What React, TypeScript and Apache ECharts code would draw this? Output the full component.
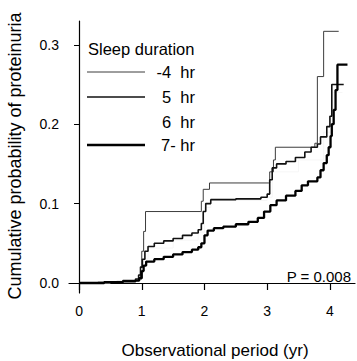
import React, { useEffect, useRef } from "react";
import * as echarts from "echarts";

const seriesNames = ["-4  hr", "5  hr", "6  hr", "7- hr"];

const hr4: number[][] = [
  [0, 0], [0.3, 0.001], [0.6, 0.002], [0.85, 0.003], [0.95, 0.006], [0.98, 0.02],
  [1.0, 0.04], [1.03, 0.065], [1.06, 0.09], [1.93, 0.09], [1.95, 0.103], [1.98, 0.118],
  [2.08, 0.126], [3.02, 0.126], [3.04, 0.14], [3.1, 0.155], [3.13, 0.171], [3.72, 0.171],
  [3.76, 0.176], [3.8, 0.26], [3.9, 0.317], [4.14, 0.317],
];

const hr5: number[][] = [
  [0, 0], [0.4, 0.001], [0.7, 0.003], [0.9, 0.005], [0.95, 0.01], [0.98, 0.02],
  [1.01, 0.03], [1.05, 0.04], [1.1, 0.046], [1.2, 0.05], [1.35, 0.053], [1.5, 0.056],
  [1.65, 0.06], [1.8, 0.063], [1.9, 0.067], [1.95, 0.075], [1.98, 0.09], [2.02, 0.1],
  [2.1, 0.105], [2.5, 0.106], [2.9, 0.108], [3.0, 0.112], [3.04, 0.13], [3.08, 0.145],
  [3.15, 0.15], [3.3, 0.153], [3.45, 0.158], [3.6, 0.165], [3.7, 0.171], [3.8, 0.175],
  [3.85, 0.184], [3.95, 0.197], [4.0, 0.21], [4.03, 0.25], [4.22, 0.25],
];

const hr6: number[][] = [
  [0, 0], [0.5, 0.001], [0.9, 0.004], [0.97, 0.012], [1.02, 0.03], [1.1, 0.044],
  [1.5, 0.054], [1.9, 0.064], [2.0, 0.095], [2.1, 0.104], [3.0, 0.108], [3.08, 0.14],
  [3.5, 0.155], [3.9, 0.19], [4.05, 0.24], [4.2, 0.24],
];

const hr7: number[][] = [
  [0, 0], [0.4, 0.001], [0.7, 0.002], [0.9, 0.003], [0.96, 0.006], [1.0, 0.015],
  [1.03, 0.022], [1.07, 0.027], [1.2, 0.03], [1.35, 0.033], [1.5, 0.036], [1.65, 0.039],
  [1.8, 0.042], [1.9, 0.045], [1.95, 0.05], [2.0, 0.06], [2.05, 0.066], [2.15, 0.069],
  [2.3, 0.071], [2.5, 0.074], [2.7, 0.077], [2.85, 0.082], [2.95, 0.09], [3.05, 0.098],
  [3.15, 0.104], [3.3, 0.11], [3.45, 0.116], [3.55, 0.123], [3.65, 0.128], [3.8, 0.133],
  [3.85, 0.142], [3.9, 0.151], [3.95, 0.161], [3.98, 0.171], [4.01, 0.185], [4.03, 0.2],
  [4.06, 0.218], [4.09, 0.243], [4.12, 0.275], [4.28, 0.275],
];

const xTicks = [0, 1, 2, 3, 4];
const yTicks = [0, 0.1, 0.2, 0.3];

const FONT = "Liberation Sans, Arial, sans-serif";

export default function App() {
  const ref = useRef<HTMLDivElement>(null);
  useEffect(() => {
    if (!ref.current) return;
    const chart = echarts.init(ref.current, undefined, { renderer: "svg" });
    const lineStyles = [
      { color: "#3c3c3c", width: 1 },
      { color: "#111", width: 1.6 },
      { color: "#f6f6f6", width: 1 },
      { color: "#000", width: 2.3 },
    ];
    const datas = [hr4, hr5, hr6, hr7];
    const legendY = [72, 97, 122, 145];
    const graphics: any[] = [
      {
        type: "text", x: 15, y: 156, rotation: Math.PI / 2,
        style: { text: "Cumulative probability of proteinuria", font: `18px ${FONT}`, fill: "#000", align: "center", verticalAlign: "middle" },
      },
      {
        type: "text", x: 215, y: 350,
        style: { text: "Observational period (yr)", font: `17px ${FONT}`, fill: "#000", align: "center", verticalAlign: "middle" },
      },
      {
        type: "text", x: 351, y: 276,
        style: { text: "P = 0.008", font: `15px ${FONT}`, fill: "#000", align: "right", verticalAlign: "middle" },
      },
      {
        type: "text", x: 88, y: 49,
        style: { text: "Sleep duration", font: `16.5px ${FONT}`, fill: "#000", align: "left", verticalAlign: "middle" },
      },
    ];
    seriesNames.forEach((n, i) => {
      if (i !== 2) {
        graphics.push({
          type: "line",
          shape: { x1: 87, y1: legendY[i], x2: 145, y2: legendY[i] },
          style: { stroke: lineStyles[i].color, lineWidth: lineStyles[i].width },
        });
      }
      graphics.push({
        type: "text", x: 195, y: legendY[i],
        style: { text: n, font: `16.5px ${FONT}`, fill: "#000", align: "right", verticalAlign: "middle" },
      });
    });

    chart.setOption({
      animation: false,
      backgroundColor: "#fff",
      grid: { left: 69, top: 21, right: 2, bottom: 68, containLabel: false, outerBoundsMode: "none" },
      xAxis: {
        type: "value", min: -0.16, max: 4.4,
        axisLine: { show: true, lineStyle: { color: "#000", width: 1.2 } },
        axisTick: { show: true, length: 7, customValues: xTicks, lineStyle: { color: "#000", width: 1.2 } },
        axisLabel: { customValues: xTicks, color: "#000", fontSize: 14, fontFamily: FONT, margin: 11, formatter: (v: number) => String(v) },
        splitLine: { show: false },
      },
      yAxis: {
        type: "value", min: -0.0126, max: 0.33,
        axisLine: { show: true, lineStyle: { color: "#000", width: 1.2 } },
        axisTick: { show: true, length: 5, customValues: yTicks, lineStyle: { color: "#000", width: 1 } },
        axisLabel: { customValues: yTicks, color: "#000", fontSize: 14, fontFamily: FONT, margin: 10, formatter: (v: number) => v.toFixed(1) },
        splitLine: { show: false },
      },
      series: seriesNames.map((n, i) => ({
        name: n,
        type: "line",
        step: "end",
        data: datas[i],
        showSymbol: false,
        symbol: "none",
        z: i === 2 ? 1 : 3,
        lineStyle: { color: lineStyles[i].color, width: lineStyles[i].width },
      })),
      graphic: graphics,
    });
    return () => chart.dispose();
  }, []);
  return <div ref={ref} style={{ width: 357, height: 361, position: "absolute", left: 0, top: 0 }} />;
}
